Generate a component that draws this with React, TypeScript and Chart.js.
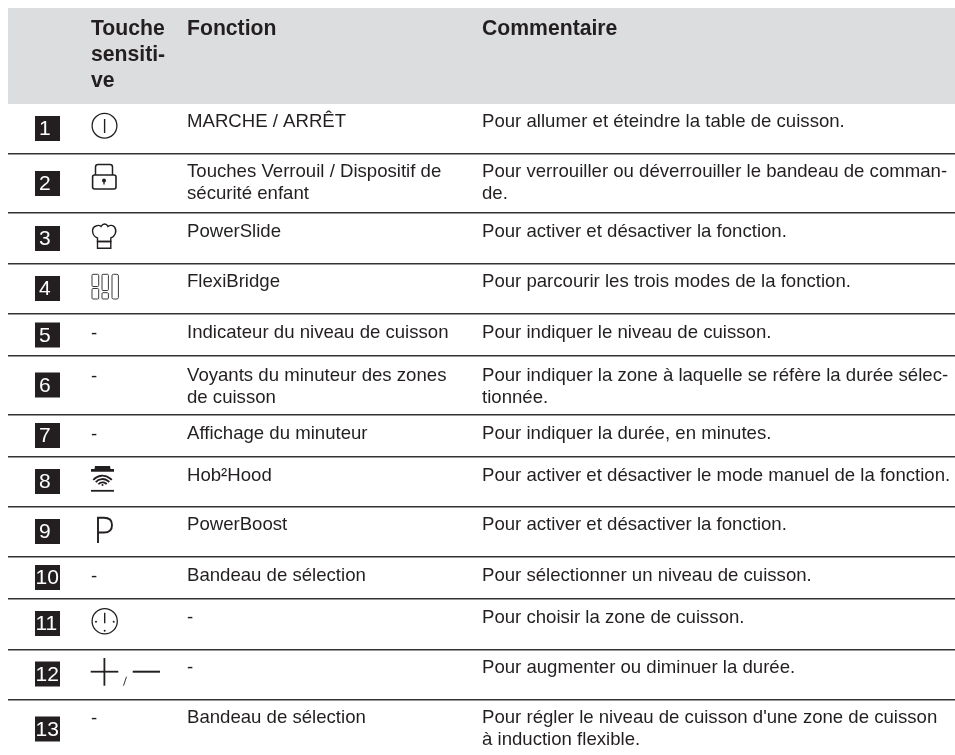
import React, { useEffect, useRef } from "react";
import { Chart, registerables } from "chart.js";

Chart.register(...registerables);

const rowNumbers = ["1","2","3","4","5","6","7","8","9","10","11","12","13"];
const headerTouche = ["Touche", "sensiti-", "ve"];
const headerFonction = "Fonction";
const headerCommentaire = "Commentaire";
const touchKeys = ["power","lock","hat","flex","-","-","-","hood","boost","-","clock","plusminus","-"];
const functions = [
  ["MARCHE / ARRÊT"],
  ["Touches Verrouil / Dispositif de","sécurité enfant"],
  ["PowerSlide"],
  ["FlexiBridge"],
  ["Indicateur du niveau de cuisson"],
  ["Voyants du minuteur des zones","de cuisson"],
  ["Affichage du minuteur"],
  ["Hob²Hood"],
  ["PowerBoost"],
  ["Bandeau de sélection"],
  ["-"],
  ["-"],
  ["Bandeau de sélection"],
];
const comments = [
  ["Pour allumer et éteindre la table de cuisson."],
  ["Pour verrouiller ou déverrouiller le bandeau de comman-","de."],
  ["Pour activer et désactiver la fonction."],
  ["Pour parcourir les trois modes de la fonction."],
  ["Pour indiquer le niveau de cuisson."],
  ["Pour indiquer la zone à laquelle se réfère la durée sélec-","tionnée."],
  ["Pour indiquer la durée, en minutes."],
  ["Pour activer et désactiver le mode manuel de la fonction."],
  ["Pour activer et désactiver la fonction."],
  ["Pour sélectionner un niveau de cuisson."],
  ["Pour choisir la zone de cuisson."],
  ["Pour augmenter ou diminuer la durée."],
  ["Pour régler le niveau de cuisson d'une zone de cuisson","à induction flexible."],
];

// Layout along the page axes
const ruleRows = [153.5,212.5,263.5,313.5,355.5,414.5,456.5,506.5,556.5,598.5,649.5,699.5];
const tileCentres = [128.5,183.5,238.5,288.5,335,385,435.5,481.5,531.5,577.5,623.5,674,729];
const textBaselines = [127,177,237,287,338,381,439,481,530,581,623,673,723];
const secondLineGap = 22;
const headerTop = 8;
const headerBottom = 104;
const colTile = 47.5;
const colKey = 91;
const colFonction = 187;
const colComment = 482;
const headerBaselines = [35, 60.5, 87];

const INK = "#231f20";
const BODY_FONT = "18.6px 'Liberation Sans'";
const HEAD_FONT = "bold 21.2px 'Liberation Sans'";
const TILE_FONT = "21px 'Liberation Sans'";

function drawIcon(ctx: CanvasRenderingContext2D, kind: string, X: (v:number)=>number, Y: (v:number)=>number) {
  const px = (a:number)=>X(a), py=(b:number)=>Y(b);
  const seg=(x1:number,y1:number,x2:number,y2:number,w:number)=>{ctx.lineWidth=w;ctx.beginPath();ctx.moveTo(px(x1),py(y1));ctx.lineTo(px(x2),py(y2));ctx.stroke();};
  const circle=(x:number,y:number,r:number,w:number)=>{ctx.lineWidth=w;ctx.beginPath();ctx.arc(px(x),py(y),r,0,Math.PI*2);ctx.stroke();};
  const dot=(x:number,y:number,r:number)=>{ctx.beginPath();ctx.arc(px(x),py(y),r,0,Math.PI*2);ctx.fill();};
  const round=(x1:number,y1:number,x2:number,y2:number,r:number,w:number)=>{ctx.lineWidth=w;ctx.beginPath();ctx.roundRect(px(x1),py(y1),x2-x1,y2-y1,r);ctx.stroke();};
  ctx.strokeStyle=INK; ctx.fillStyle=INK; ctx.lineCap="butt";
  if(kind==="power"){circle(104.5,125.8,12.4,1.3);seg(104.6,119,104.6,133,1.4);}
  if(kind==="lock"){
    round(92.6,175,116,189,2,1.6);
    ctx.lineWidth=1.5;ctx.beginPath();ctx.moveTo(px(95.5),py(175));ctx.lineTo(px(95.5),py(167));ctx.quadraticCurveTo(px(95.5),py(164.5),px(98),py(164.5));ctx.lineTo(px(110),py(164.5));ctx.quadraticCurveTo(px(112.5),py(164.5),px(112.5),py(167));ctx.lineTo(px(112.5),py(175));ctx.stroke();
    dot(104,180.5,2);seg(104,181,104,184.5,1.3);
  }
  if(kind==="hat"){
    ctx.lineWidth=1.4;ctx.beginPath();
    ctx.moveTo(px(97.5),py(241.5));
    ctx.lineTo(px(97.5),py(238));
    ctx.bezierCurveTo(px(92),py(236),px(90.5),py(228),px(96),py(226));
    ctx.bezierCurveTo(px(98),py(225),px(100),py(225.5),px(101),py(226.5));
    ctx.bezierCurveTo(px(103),py(223.2),px(106.5),py(223.2),px(108),py(226.5));
    ctx.bezierCurveTo(px(110),py(224.8),px(113),py(225),px(114.5),py(227));
    ctx.bezierCurveTo(px(117.5),py(231),px(115),py(236.5),px(110.8),py(238));
    ctx.lineTo(px(110.8),py(241.5));ctx.closePath();ctx.stroke();
    round(97.5,241.5,110.8,248.3,0,1.4);
  }
  if(kind==="flex"){
    ctx.strokeStyle="#3a3a3a";
    round(92,274.3,98.7,286.5,1,1);round(92,288.5,98.7,299,1,1);
    round(102,274.3,108.4,290.5,1,1);round(102,292.7,108.4,299,1,1);
    round(112,274.3,118.4,299,1.5,1);
    ctx.strokeStyle=INK;
  }
  if(kind==="hood"){
    ctx.beginPath();ctx.moveTo(px(95),py(466));ctx.lineTo(px(110),py(466));ctx.lineTo(px(110.5),py(469));ctx.lineTo(px(114),py(469));ctx.lineTo(px(114),py(471.7));ctx.lineTo(px(91),py(471.7));ctx.lineTo(px(91),py(469));ctx.lineTo(px(94.5),py(469));ctx.closePath();ctx.fill();
    const cx=102.5, cy=487.7;
    [12,8.7,5.4].forEach((r)=>{ctx.lineWidth=1.8;ctx.beginPath();ctx.arc(px(cx),py(cy),r,Math.PI*1.22,Math.PI*1.78);ctx.stroke();});
    dot(cx,485,1);
    seg(91,490.8,114,490.8,1.8);
  }
  if(kind==="boost"){
    ctx.lineWidth=1.9;ctx.beginPath();ctx.moveTo(px(98),py(543));ctx.lineTo(px(98),py(517.8));ctx.lineTo(px(104),py(517.8));ctx.bezierCurveTo(px(110),py(517.8),px(112),py(521),px(112),py(525));ctx.bezierCurveTo(px(112),py(530),px(109),py(532.5),px(104),py(532.5));ctx.lineTo(px(98),py(532.5));ctx.stroke();
  }
  if(kind==="clock"){
    circle(104.7,621.2,12.6,1.3);seg(104.7,612.7,104.7,623.3,1.4);
    dot(96,621.7,1);dot(113.7,621.7,1);dot(104.7,630.7,1);
  }
  if(kind==="plusminus"){
    seg(90.7,671.7,118.3,671.7,1.8);seg(104.4,658,104.4,685.7,1.8);
    seg(126.5,676.7,123.5,685.7,0.9);seg(132.7,671.7,160,671.7,2);
  }
}

export default function App() {
  const ref = useRef<HTMLCanvasElement>(null);
  useEffect(() => {
    const tablePlugin = {
      id: "tablePlugin",
      beforeDraw(chart: any) {
        const { ctx, scales: { x, y } } = chart;
        const X=(v:number)=>x.getPixelForValue(v), Y=(v:number)=>y.getPixelForValue(v);
        ctx.save();
        ctx.fillStyle="#dcddde";
        ctx.fillRect(X(8),Y(headerTop),X(955)-X(8),Y(headerBottom)-Y(headerTop));
        ctx.restore();
      },
      afterDatasetsDraw(chart: any) {
        const { ctx, scales: { x, y } } = chart;
        const X=(v:number)=>x.getPixelForValue(v), Y=(v:number)=>y.getPixelForValue(v);
        ctx.save();
        ctx.textBaseline="alphabetic"; ctx.textAlign="left"; ctx.fillStyle=INK;
        ctx.font=HEAD_FONT;
        headerTouche.forEach((t,i)=>ctx.fillText(t,X(colKey),Y(headerBaselines[i])));
        ctx.fillText(headerFonction,X(colFonction),Y(headerBaselines[0]));
        ctx.fillText(headerCommentaire,X(colComment),Y(headerBaselines[0]));
        ctx.font=BODY_FONT;
        rowNumbers.forEach((_,i)=>{
          const base=textBaselines[i];
          functions[i].forEach((t,j)=>ctx.fillText(t,X(colFonction),Y(base+j*secondLineGap)));
          comments[i].forEach((t,j)=>ctx.fillText(t,X(colComment),Y(base+j*secondLineGap)));
          if(touchKeys[i]==="-") ctx.fillText("-",X(colKey),Y(base+1));
          else drawIcon(ctx,touchKeys[i],X,Y);
        });
        ctx.font=TILE_FONT; ctx.fillStyle="#ffffff";
        rowNumbers.forEach((n,i)=>{
          ctx.fillText(n,X(n.length>1?35.5:39),Y(tileCentres[i]+6.5));
        });
        ctx.restore();
      },
    };
    const chart = new Chart(ref.current!, {
      type: "scatter",
      data: {
        datasets: [{
          label: "Repères",
          data: tileCentres.map((c)=>({x:colTile,y:c})),
          pointStyle: "rect",
          pointRadius: 17.68,
          pointBackgroundColor: "#231f20",
          pointBorderWidth: 0,
          showLine: false,
        }],
      },
      options: {
        responsive: false,
        animation: false,
        events: [],
        layout: { autoPadding: false, padding: { left: 8, right: 0, top: 0, bottom: 0 } },
        plugins: { legend: { display: false }, tooltip: { enabled: false } },
        scales: {
          x: { type: "linear", min: 8, max: 955, display: false },
          y: {
            type: "linear", min: 0, max: 755, reverse: true,
            afterBuildTicks(s:any){ s.ticks = ruleRows.map((value)=>({value})); },
            border: { display: false },
            ticks: { display: false },
            grid: { color: "#333333", lineWidth: 1.6, drawTicks: false },
          },
        },
      },
      plugins: [tablePlugin],
    } as any);
    return () => chart.destroy();
  }, []);
  return <canvas ref={ref} width={955} height={755} style={{ position: "fixed", left: 0, top: 0, width: 955, height: 755, display: "block", background: "#fff" }} />;
}
